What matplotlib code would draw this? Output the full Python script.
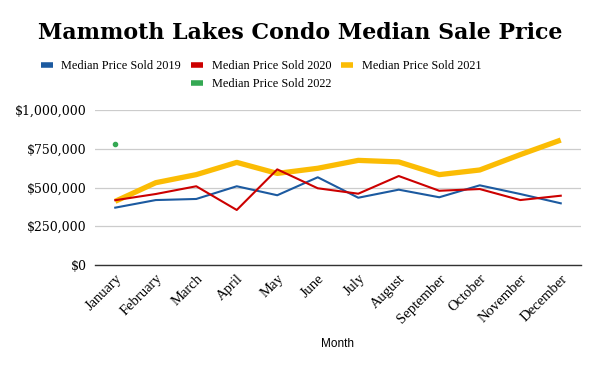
import matplotlib
matplotlib.use("Agg")
import matplotlib.pyplot as plt
from matplotlib.lines import Line2D
from matplotlib.ticker import FuncFormatter

months = ["January", "February", "March", "April", "May", "June", "July",
          "August", "September", "October", "November", "December"]
sold_2019 = [370000, 419000, 426000, 508000, 450000, 566000, 434000, 486000, 437000, 514000, 458000, 398000]
sold_2020 = [418000, 458000, 508000, 355000, 617000, 495000, 460000, 574000, 479000, 490000, 419000, 447000]
sold_2021 = [411000, 531000, 583000, 662000, 591000, 624000, 675000, 665000, 583000, 613000, 712000, 806000]
sold_2022 = [781000]
yticks = [0, 250000, 500000, 750000, 1000000]

c19, c20, c21, c22 = "#1c5aa0", "#cc0000", "#fbbc04", "#34a853"

fig = plt.figure(figsize=(6, 3.71), dpi=100)
ax = fig.add_axes([95/600, 1-265/371, (581-95)/600, (265-110)/371])

x = list(range(len(months)))
ax.plot(x, sold_2019, color=c19, lw=1.5, solid_joinstyle="round", zorder=3)
ax.plot(x, sold_2020, color=c20, lw=1.5, solid_joinstyle="round", zorder=3)
ax.plot(x, sold_2021, color=c21, lw=3.8, solid_joinstyle="round", solid_capstyle="butt", zorder=2)
ax.plot(x[:len(sold_2022)], sold_2022, color=c22, lw=0, marker="o", ms=3, zorder=4)

ax.set_xlim(-0.5, 11.5)
ax.set_ylim(0, 1000000)
ax.set_yticks(yticks)
ax.yaxis.set_major_formatter(FuncFormatter(lambda v, p: "${:,.0f}".format(v)))
ax.set_xticks(x)
ax.set_xticklabels(months, rotation=45, ha="right", rotation_mode="anchor",
                   family="Liberation Serif", fontsize=10.5)
for t in ax.get_yticklabels():
    t.set_family("DejaVu Serif")
    t.set_fontsize(9)
ax.tick_params(length=0, pad=6)
ax.tick_params(axis="x", pad=5)
ax.grid(axis="y", color="#cccccc", lw=0.9)
ax.set_axisbelow(True)
for s in ["top", "right", "left"]:
    ax.spines[s].set_visible(False)
ax.spines["bottom"].set_color("#333333")
ax.spines["bottom"].set_linewidth(1.0)
ax.spines["bottom"].set_zorder(1)

ax.set_xlabel("Month", family="Liberation Sans", fontsize=8.5)
ax.xaxis.set_label_coords((338-95)/(581-95), -(338-265)/155)

fig.text(0.5, 1-33/371, "Mammoth Lakes Condo Median Sale Price", ha="center", va="center",
         family="DejaVu Serif", fontweight="bold", fontsize=15.9)

def handle(c):
    return Line2D([], [], color=c, lw=4, solid_capstyle="butt")

leg_kw = dict(frameon=False, prop={"family": "Liberation Serif", "size": 8.8},
              handlelength=1.0, handletextpad=0.7, columnspacing=0.8, borderpad=0, borderaxespad=0)
leg1 = fig.legend([handle(c19), handle(c20), handle(c21)],
                  ["Median Price Sold 2019", "Median Price Sold 2020", "Median Price Sold 2021"],
                  loc="center", bbox_to_anchor=(261/600, 1-66/371), ncol=3, **leg_kw)
leg2 = fig.legend([handle(c22)], ["Median Price Sold 2022"],
                  loc="center", bbox_to_anchor=(261/600, 1-84/371), ncol=1, **leg_kw)

fig.savefig("out.png", dpi=100, facecolor="white")
